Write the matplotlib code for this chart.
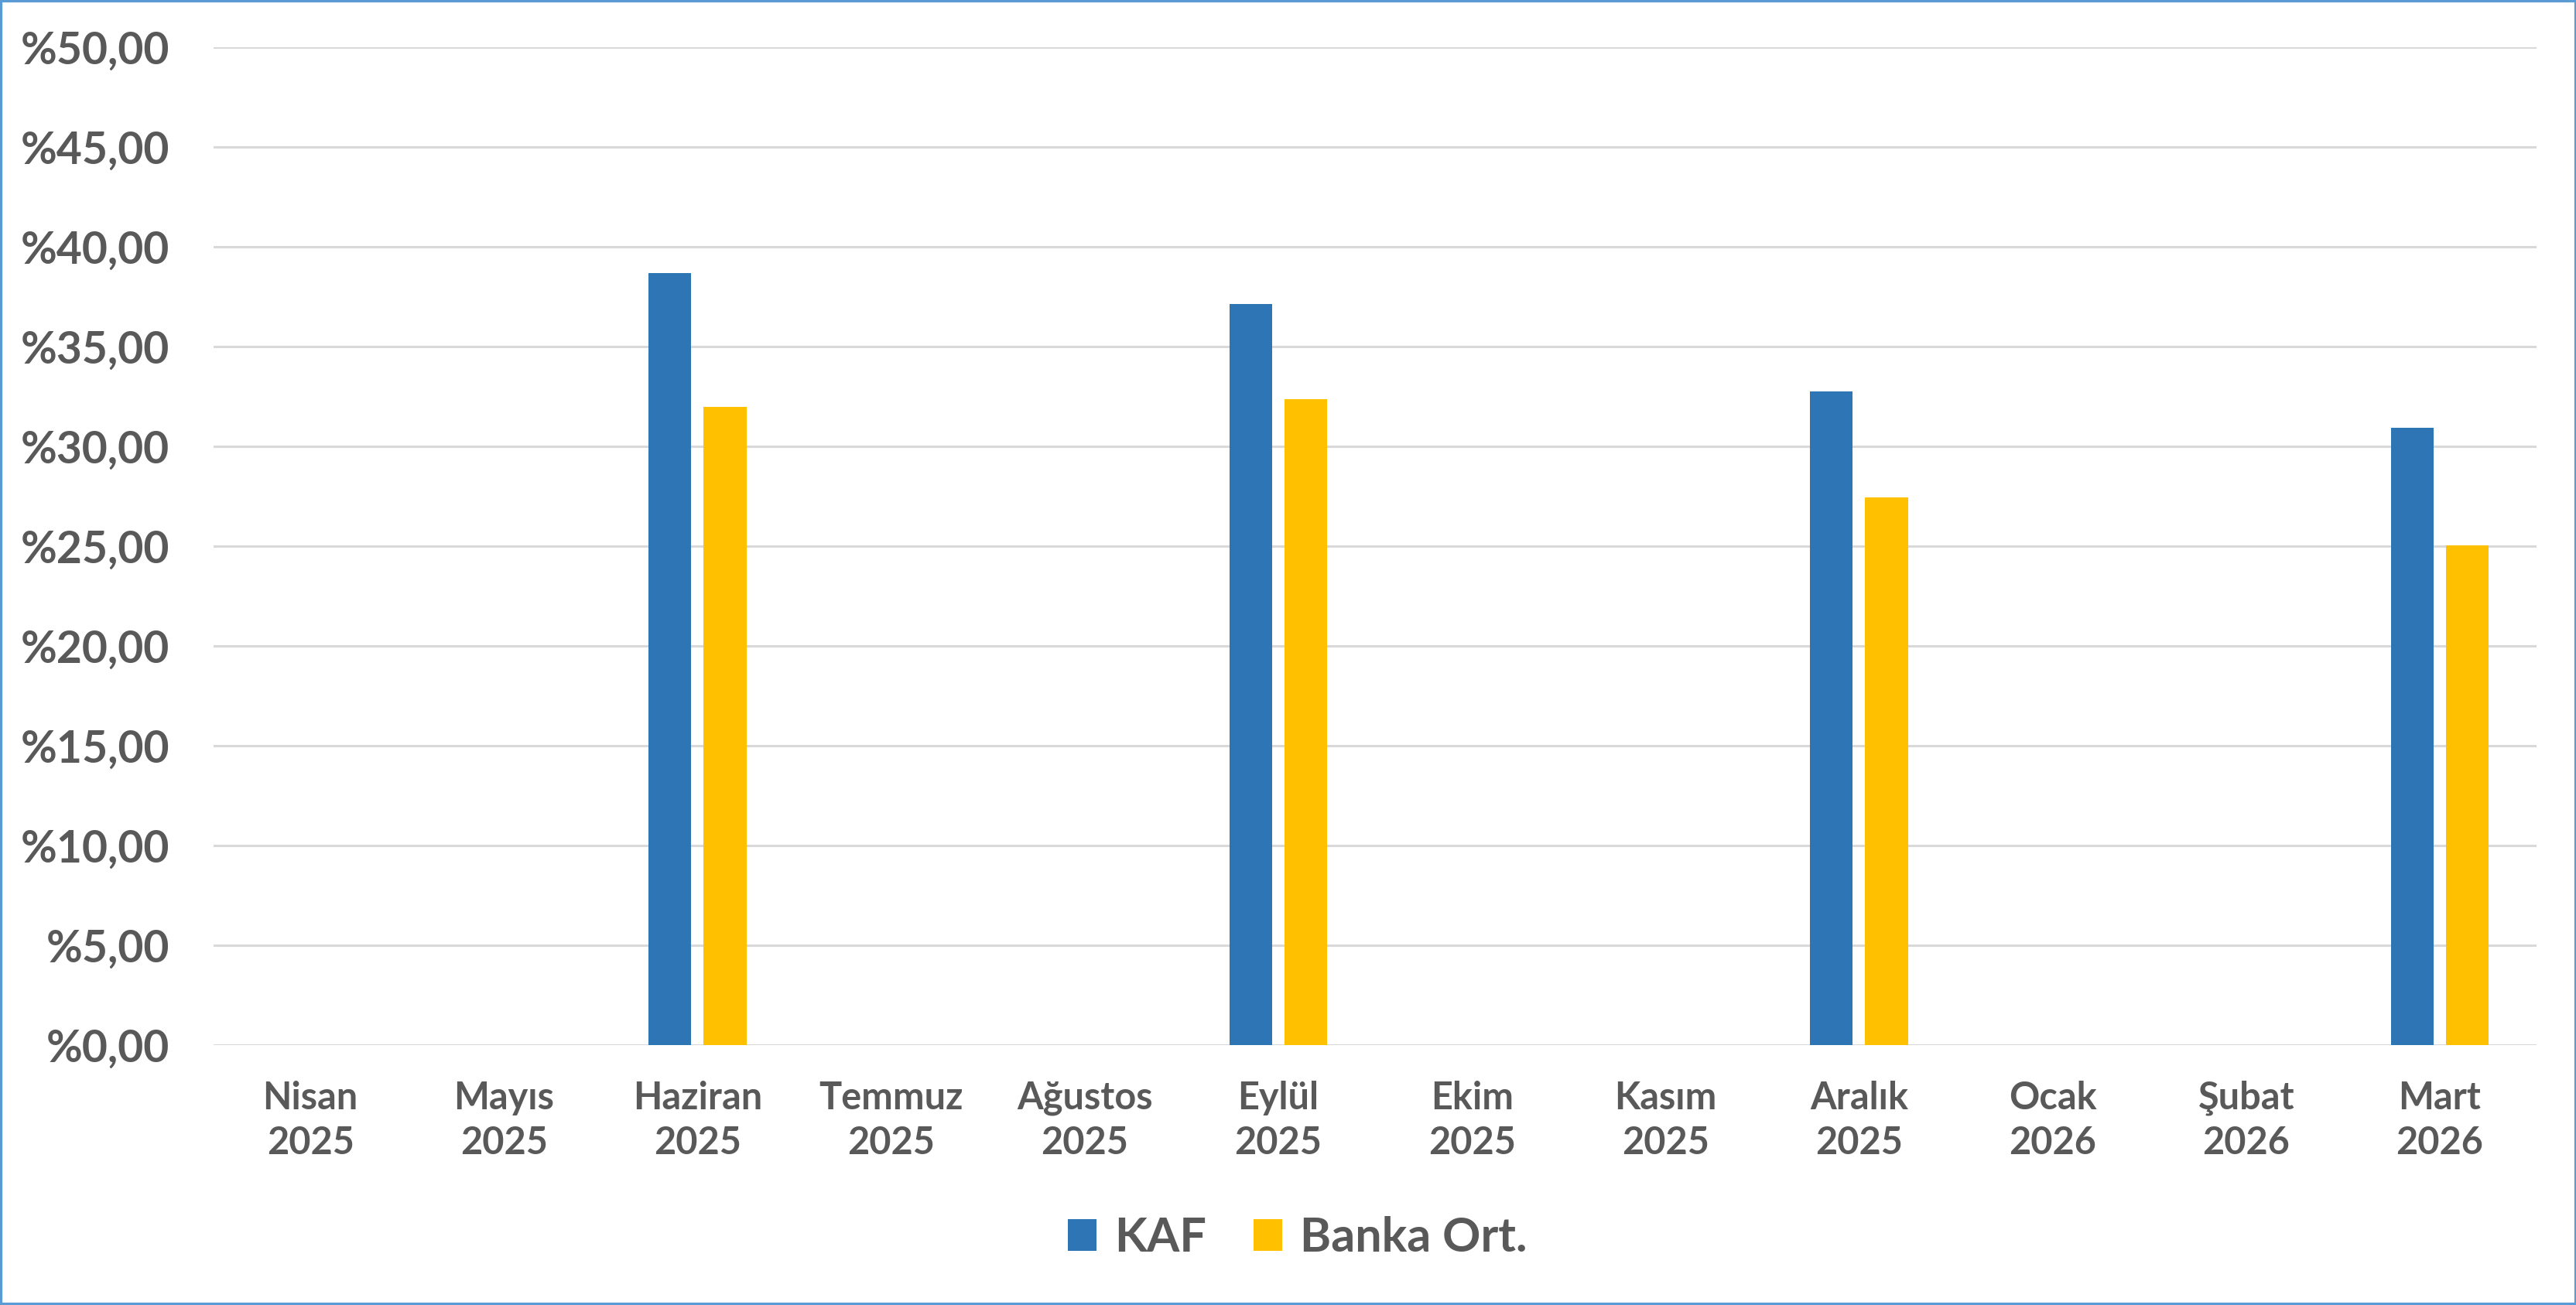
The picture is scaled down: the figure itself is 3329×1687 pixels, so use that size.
"""KAF vs Banka ortalamasi - aylik oran grafigi (bar chart)."""

import numpy as np
from matplotlib import pyplot as plt
from matplotlib.patches import Rectangle

# data
months = ["Nisan\n2025", "Mayıs\n2025", "Haziran\n2025", "Temmuz\n2025",
          "Ağustos\n2025", "Eylül\n2025", "Ekim\n2025", "Kasım\n2025",
          "Aralık\n2025", "Ocak\n2026", "Şubat\n2026", "Mart\n2026"]
kaf = [np.nan, np.nan, 38.68, np.nan, np.nan, 37.12, np.nan, np.nan,
       32.74, np.nan, np.nan, 30.92]
banka_ort = [np.nan, np.nan, 31.97, np.nan, np.nan, 32.35, np.nan, np.nan,
             27.43, np.nan, np.nan, 25.05]
y_ticks = [0, 5, 10, 15, 20, 25, 30, 35, 40, 45, 50]

KAF_COLOR = "#2E75B6"
BANKA_COLOR = "#FFC000"
TEXT_COLOR = "#595959"
GRID_COLOR = "#D9D9D9"

plt.rcParams['font.family'] = ['Lato', 'DejaVu Sans']
plt.rcParams['font.weight'] = 'bold'

fig = plt.figure(figsize=(33.3, 16.87), dpi=100)
ax = fig.add_axes([0.0829, 0.1992, 0.9015, 0.7647])

x = np.arange(len(months))
bar_w = 0.22
ax.bar(x - 0.142, kaf, width=bar_w, color=KAF_COLOR, label="KAF", zorder=3)
ax.bar(x + 0.142, banka_ort, width=bar_w, color=BANKA_COLOR, label="Banka Ort.", zorder=3)

ax.set_xlim(-0.5, len(months) - 0.5)
ax.set_ylim(0, 50)
ax.set_yticks(y_ticks)
ax.set_yticklabels(["%" + f"{v:.2f}".replace(".", ",") for v in y_ticks])
ax.set_xticks(x)
ax.set_xticklabels(months, linespacing=1.35)

ax.tick_params(axis='y', length=0, pad=41, labelsize=41, labelcolor=TEXT_COLOR)
ax.tick_params(axis='x', length=0, pad=33, labelsize=35, labelcolor=TEXT_COLOR)

ax.grid(axis='y', color=GRID_COLOR, linewidth=2.2, zorder=0)
for s in ax.spines.values():
    s.set_visible(False)

leg = fig.legend(loc='center', bbox_to_anchor=(0.5036, 0.0516), ncol=2,
                 frameon=False, fontsize=44, handlelength=0.6, handleheight=0.66,
                 handletextpad=0.38, columnspacing=1.0)
for t in leg.get_texts():
    t.set_color(TEXT_COLOR)

# thin blue frame around the whole chart
fig.add_artist(Rectangle((0, 0), 1, 1, transform=fig.transFigure, fill=False,
                         edgecolor="#5B9BD5", linewidth=4.5))

fig.savefig("out.png", dpi=100, facecolor="white")
